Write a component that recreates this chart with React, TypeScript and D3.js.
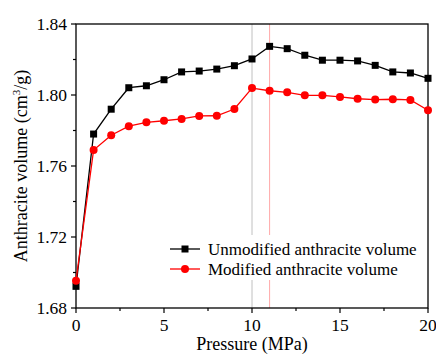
import * as d3 from "d3";

const pressure = [0, 1, 2, 3, 4, 5, 6, 7, 8, 9, 10, 11, 12, 13, 14, 15, 16, 17, 18, 19, 20];
const unmodified = [
  1.6922, 1.778, 1.792, 1.8041, 1.8052, 1.8086, 1.813, 1.8135, 1.8146, 1.8165, 1.8203,
  1.8274, 1.8261, 1.8224, 1.8196, 1.8196, 1.8192, 1.8167, 1.813, 1.8124, 1.8094,
];
const modified = [
  1.6954, 1.769, 1.7773, 1.7824, 1.7846, 1.7855, 1.7865, 1.7882, 1.7883, 1.7921, 1.8039,
  1.8024, 1.8015, 1.7998, 1.7998, 1.7989, 1.7979, 1.7974, 1.7976, 1.7972, 1.7914,
];
const xTicks = [0, 5, 10, 15, 20];
const yTicks = [1.68, 1.72, 1.76, 1.8, 1.84];
const markerLines = [10, 11];
const legendLabels = ["Unmodified anthracite volume", "Modified anthracite volume"];

const W = 436;
const H = 357;
const margin = { top: 24, right: 8, bottom: 49, left: 76 };
const serif = { fontFamily: "Liberation Serif, DejaVu Serif, serif" };

export default function App() {
  const x = d3.scaleLinear().domain([0, 20]).range([margin.left, W - margin.right]);
  const y = d3.scaleLinear().domain([1.68, 1.84]).range([H - margin.bottom, margin.top]);
  const line = d3
    .line<number>()
    .x((_, i) => x(pressure[i]))
    .y((d) => y(d));

  const x0 = x.range()[0];
  const x1 = x.range()[1];
  const y0 = y.range()[0];
  const y1 = y.range()[1];
  const minorX = d3.range(0, 20.01, 2.5).filter((v) => v % 5 !== 0);
  const minorY = [1.7, 1.74, 1.78, 1.82];

  const legX = 170;
  const legY = [249, 269];

  return (
    <svg
      width={W}
      height={H}
      style={{ position: "absolute", left: 0, top: 0, background: "#fff" }}
    >
      {/* reference lines */}
      <line x1={x(markerLines[0])} x2={x(markerLines[0])} y1={y1} y2={y0} stroke="#b0b0b0" strokeWidth={0.8} />
      <line x1={x(markerLines[1])} x2={x(markerLines[1])} y1={y1} y2={y0} stroke="#ff9090" strokeWidth={0.8} />

      {/* legend background */}
      <rect x={165} y={235} width={260} height={45} fill="#fff" />

      {/* frame */}
      <rect x={x0} y={y1} width={x1 - x0} height={y0 - y1} fill="none" stroke="#000" strokeWidth={1.3} />

      {/* x ticks */}
      {xTicks.map((t) => (
        <g key={"x" + t}>
          <line x1={x(t)} x2={x(t)} y1={y0} y2={y0 + 5} stroke="#000" strokeWidth={1.2} />
          <text x={x(t)} y={331} textAnchor="middle" fontSize={17.5} style={serif}>
            {t}
          </text>
        </g>
      ))}
      {minorX.map((t) => (
        <line key={"mx" + t} x1={x(t)} x2={x(t)} y1={y0} y2={y0 + 3} stroke="#000" strokeWidth={1.2} />
      ))}

      {/* y ticks */}
      {yTicks.map((t) => (
        <g key={"y" + t}>
          <line x1={x0 - 5} x2={x0} y1={y(t)} y2={y(t)} stroke="#000" strokeWidth={1.2} />
          <text x={x0 - 9} y={y(t)} dy="0.35em" textAnchor="end" fontSize={17.5} style={serif}>
            {t.toFixed(2)}
          </text>
        </g>
      ))}
      {minorY.map((t) => (
        <line key={"my" + t} x1={x0 - 3} x2={x0} y1={y(t)} y2={y(t)} stroke="#000" strokeWidth={1.2} />
      ))}

      {/* axis titles */}
      <text x={(x0 + x1) / 2} y={350} textAnchor="middle" fontSize={18} style={serif}>
        Pressure (MPa)
      </text>
      <text
        transform={`translate(27,${(y0 + y1) / 2}) rotate(-90)`}
        textAnchor="middle"
        fontSize={18}
        style={serif}
      >
        Anthracite volume (cm<tspan dy="-7" fontSize={11}>3</tspan>
        <tspan dy="7">/g)</tspan>
      </text>

      {/* series */}
      <path d={line(unmodified)!} fill="none" stroke="#000" strokeWidth={1.3} />
      {unmodified.map((v, i) => (
        <rect key={"u" + i} x={x(pressure[i]) - 3.5} y={y(v) - 3.5} width={7} height={7} fill="#000" />
      ))}
      <path d={line(modified)!} fill="none" stroke="#ff0000" strokeWidth={1.3} />
      {modified.map((v, i) => (
        <circle key={"m" + i} cx={x(pressure[i])} cy={y(v)} r={4} fill="#ff0000" />
      ))}

      {/* legend */}
      {legendLabels.map((label, i) => (
        <g key={label}>
          <line x1={legX} x2={legX + 30} y1={legY[i]} y2={legY[i]} stroke={i === 0 ? "#000" : "#ff0000"} strokeWidth={1.3} />
          {i === 0 ? (
            <rect x={legX + 15 - 3.5} y={legY[i] - 3.5} width={7} height={7} fill="#000" />
          ) : (
            <circle cx={legX + 15} cy={legY[i]} r={4} fill="#ff0000" />
          )}
          <text x={legX + 38} y={legY[i]} dy="0.35em" fontSize={17} style={serif}>
            {label}
          </text>
        </g>
      ))}
    </svg>
  );
}
